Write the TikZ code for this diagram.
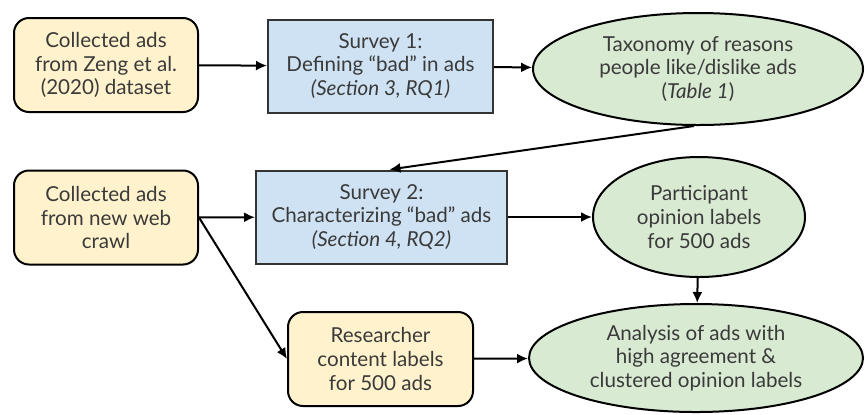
\documentclass[tikz,border=0pt]{standalone}
\usepackage{fontspec}
\setmainfont{Lato}
\usepackage{tikz}
\usepackage{xcolor}
\usetikzlibrary{arrows, arrows.meta, shapes.geometric, calc, positioning}

\definecolor{adsyellow}{HTML}{FFF2CC}
\definecolor{surveyblue}{HTML}{CFE2F3}
\definecolor{resultgreen}{HTML}{D9EAD3}
\definecolor{textgray}{HTML}{3A3A3A}

\begin{document}
\begin{tikzpicture}[x=0.5pt, y=-0.5pt,
                        every node/.style={font=\fontsize{10.3}{11.8}\selectfont, text=textgray, align=center, inner sep=0pt},
                        adsbox/.style={draw=black, line width=1pt, fill=adsyellow, rounded corners=7.5pt, minimum width=92pt, minimum height=47pt},
                        surveybox/.style={draw=black!80, line width=1pt, fill=surveyblue, minimum height=46.5pt},
                        result/.style={draw=black, line width=1pt, fill=resultgreen, ellipse},
                        flow/.style={-{Latex[length=5.5pt, width=5pt]}, line width=1pt, black}]
                        \useasboundingbox (0, 0) rectangle (865, 414);
                        \node[adsbox] (zeng) at (106, 65) {Collected ads\\from Zeng et al.\\(2020) dataset};
                        \node[surveybox, minimum width=112.5pt] (survey1) at (380.5, 66) {Survey 1:\\Defining “bad” in ads\\\textit{(Section 3, RQ1)}};
                        \node[result, minimum width=165pt, minimum height=56pt] (taxonomy) at (698, 69) {Taxonomy of reasons\\people like/dislike ads\\(\textit{Table 1})};
                        \node[adsbox] (crawl) at (106, 217.5) {Collected ads\\from new web\\crawl};
                        \node[surveybox, minimum width=125.5pt] (survey2) at (381.5, 217) {Survey 2:\\Characterizing “bad” ads\\\textit{(Section 4, RQ2)}};
                        \node[result, minimum width=106pt, minimum height=60pt] (opinion) at (699, 217) {Participant\\opinion labels\\for 500 ads};
                        \node[adsbox, minimum width=92.5pt] (content) at (380.5, 359) {Researcher\\content labels\\for 500 ads};
                        \node[result, minimum width=167pt, minimum height=54pt] (analysis) at (696, 358) {Analysis of ads with\\high agreement \&\\clustered opinion labels};
                        \draw[flow] (zeng) -- (survey1);
                        \draw[flow] (survey1) -- (taxonomy);
                        \draw[flow] ([xshift=-2pt]taxonomy.south) -- ([xshift=4pt]survey2.north);
                        \draw[flow] (crawl) -- (survey2);
                        \draw[flow] (crawl.east) -- (content.west);
                        \draw[flow] (survey2) -- (opinion);
                        \draw[flow] (opinion) -- (analysis);
                        \draw[flow] (content) -- (analysis);
                    \end{tikzpicture}
\end{document}
